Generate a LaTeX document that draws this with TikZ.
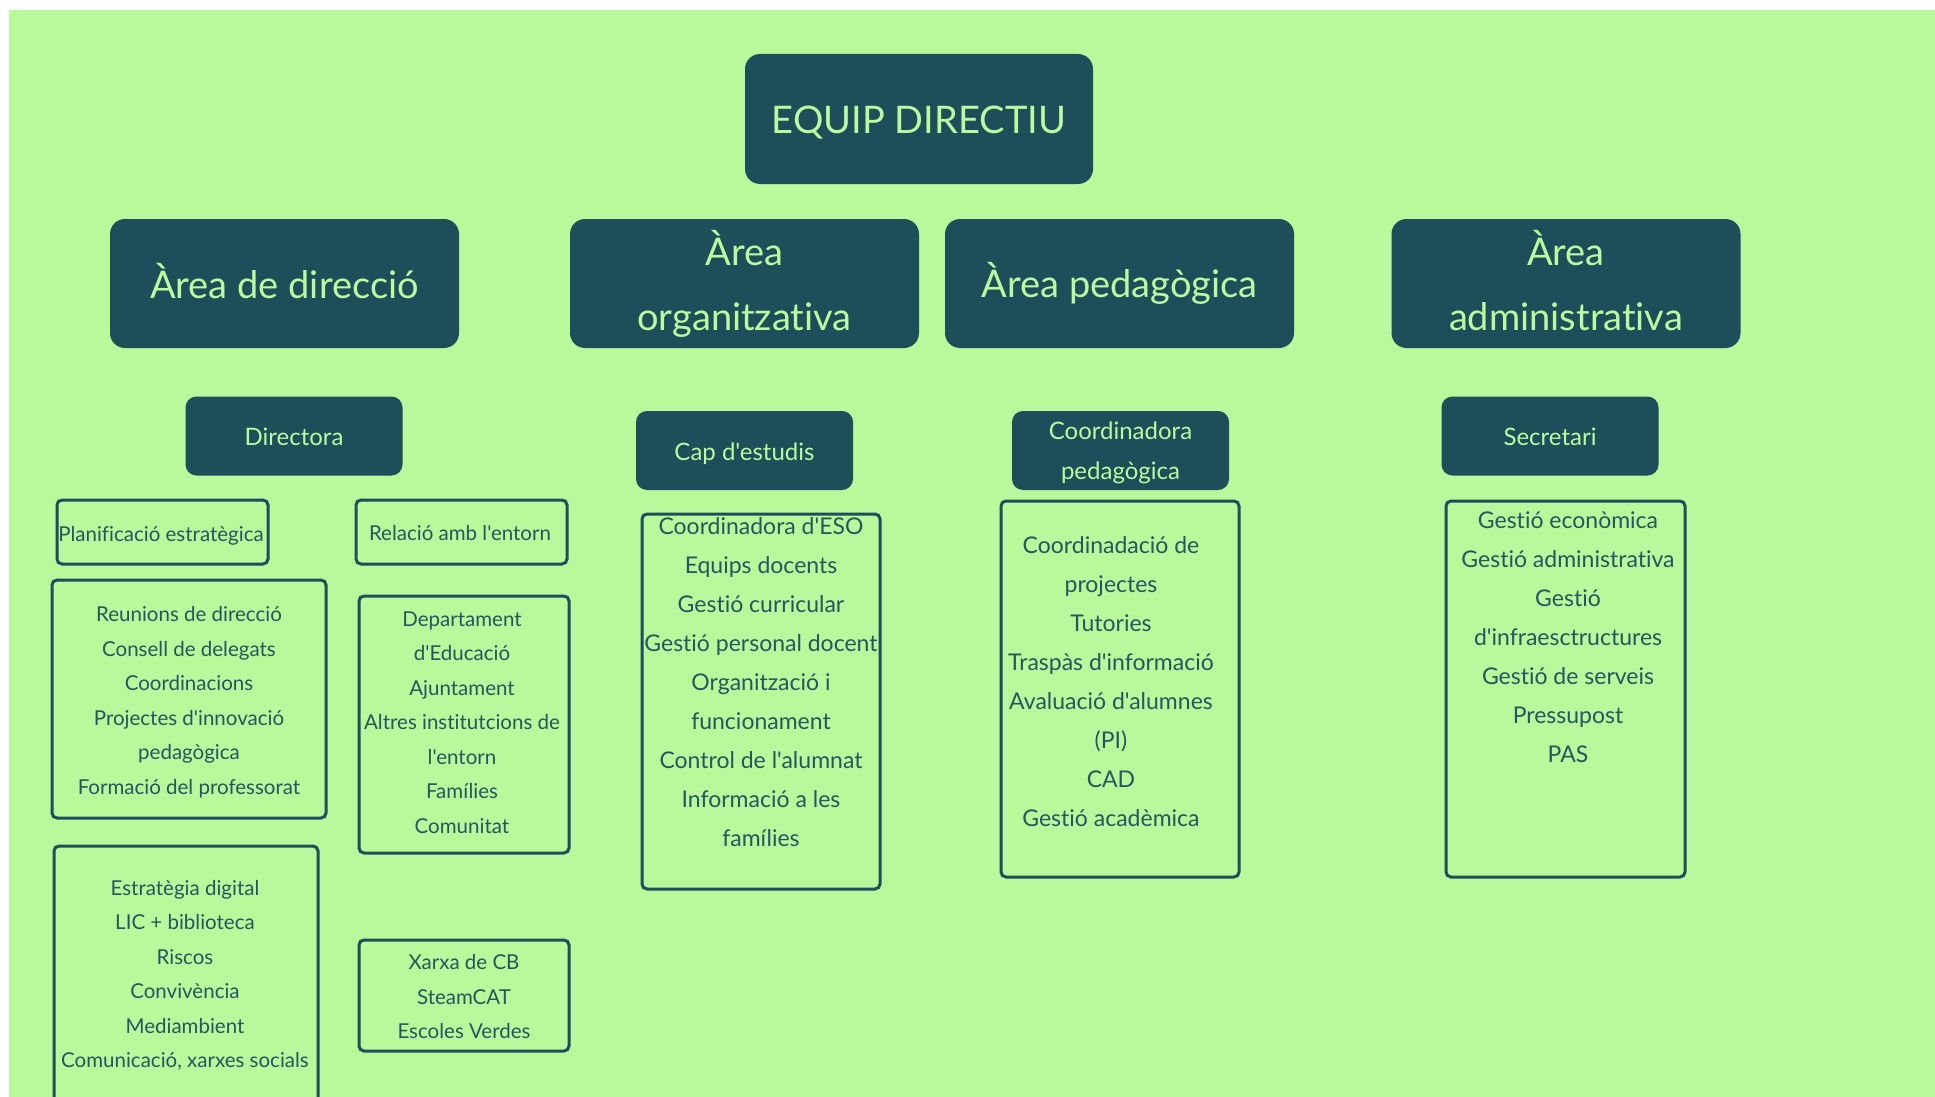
\documentclass[tikz,border=0pt]{standalone}
\usepackage{fontspec}
\setmainfont{Lato}[Ligatures={TeXOff,NoCommon}]
\definecolor{bg}{RGB}{185,249,155}
\definecolor{dark}{RGB}{29,78,90}
\definecolor{lite}{RGB}{188,250,160}
\definecolor{ink}{RGB}{38,86,94}
\tikzset{
  darkbox/.style={fill=dark, rounded corners=15pt, inner sep=0pt},
  rolebox/.style={darkbox, rounded corners=11pt, minimum width=217pt, minimum height=79pt},
  areabox/.style={darkbox, minimum width=349pt, minimum height=129pt},
  outbox/.style={draw=dark, line width=3pt, rounded corners=5pt, inner sep=0pt},
  ltxt/.style={text=lite, align=center, inner sep=0pt},
  headtxt/.style={ltxt, font=\fontsize{38}{65}\selectfont},
  roletxt/.style={ltxt, font=\fontsize{24}{40}\selectfont},
  txt/.style={text=ink, align=center, inner sep=0pt},
  smalltxt/.style={txt, font=\fontsize{20.5}{34.5}\selectfont},
  bigtxt/.style={txt, font=\fontsize{23}{39}\selectfont},
}
\begin{document}
\begin{tikzpicture}[x=1pt, y=-1pt]
\clip (0,0) rectangle (1935,1097);
\fill[white] (0,0) rectangle (1935,1097);
\fill[bg] (9,10) rectangle (1935,1097);

% top
\node[darkbox, minimum width=348pt, minimum height=130pt] (equip) at (919,119) {};
\node[headtxt, anchor=base] (equipt) at (919,133.5) {EQUIP DIRECTIU};

% areas
\node[areabox] (adir) at (284.5,283.5) {};
\node[headtxt] (adirt) at (284.5,281) {Àrea de direcció};
\node[areabox] (aorg) at (744.5,283.5) {};
\node[headtxt] (aorgt) at (744.5,283.5) {Àrea\\organitzativa};
\node[areabox] (aped) at (1119.5,283.5) {};
\node[headtxt] (apedt) at (1119.5,283.5) {Àrea pedagògica};
\node[areabox] (aadm) at (1566,283.5) {};
\node[headtxt] (aadmt) at (1566,280.5) {Àrea\\administrativa};

% roles
\node[rolebox] (dira) at (294,436) {};
\node[roletxt] (dirat) at (294,437) {Directora};
\node[rolebox] (cap) at (744.5,450.5) {};
\node[roletxt] (capt) at (744.5,454) {Cap d'estudis};
\node[rolebox] (cped) at (1120.5,450.5) {};
\node[roletxt] (cpedt) at (1120.5,453) {Coordinadora\\pedagògica};
\node[rolebox] (secr) at (1550,436) {};
\node[roletxt] (secrt) at (1550,437) {Secretari};

% direcció boxes
\node[outbox, minimum width=211pt, minimum height=64pt] (plan) at (162.5,532) {};
\node[smalltxt] (plant) at (161,535.5) {Planificació estratègica};
\node[outbox, minimum width=211pt, minimum height=64pt] (rel) at (461.5,532) {};
\node[smalltxt] (relt) at (460,533.5) {Relació amb l'entorn};
\node[outbox, minimum width=274pt, minimum height=238pt] (reu) at (189,699) {};
\node[smalltxt] (reut) at (189,702) {Reunions de direcció\\Consell de delegats\\Coordinacions\\Projectes d'innovació\\pedagògica\\Formació del professorat};
\node[outbox, minimum width=210pt, minimum height=257pt] (dep) at (464,724.5) {};
\node[smalltxt] (dept) at (462,722.5) {Departament\\d'Educació\\Ajuntament\\Altres institutcions de\\l'entorn\\Famílies\\Comunitat};
\node[outbox, minimum width=264pt, minimum height=264pt] (est) at (186,978) {};
\node[smalltxt] (estt) at (185,975.5) {Estratègia digital\\LIC + biblioteca\\Riscos\\Convivència\\Mediambient\\Comunicació, xarxes socials};
\node[outbox, minimum width=210pt, minimum height=111pt] (xar) at (464,995.5) {};
\node[smalltxt] (xart) at (464,997) {Xarxa de CB\\SteamCAT\\Escoles Verdes};

% organitzativa
\node[outbox, minimum width=238pt, minimum height=375pt] (eso) at (761,701.5) {};
\node[bigtxt] (esot) at (761,682) {Coordinadora d'ESO\\Equips docents\\Gestió curricular\\Gestió personal docent\\Organització i\\funcionament\\Control de l'alumnat\\Informació a les\\famílies};

% pedagògica
\node[outbox, minimum width=238pt, minimum height=376pt] (cpro) at (1120,689) {};
\node[bigtxt] (cprot) at (1111,682) {Coordinadació de\\projectes\\Tutories\\Traspàs d'informació\\Avaluació d'alumnes\\(PI)\\CAD\\Gestió acadèmica};

% administrativa
\node[outbox, minimum width=239pt, minimum height=376pt] (gest) at (1565.5,689) {};
\node[bigtxt] (gestt) at (1568,637) {Gestió econòmica\\Gestió administrativa\\Gestió\\d'infraesctructures\\Gestió de serveis\\Pressupost\\PAS};
\end{tikzpicture}
\end{document}
